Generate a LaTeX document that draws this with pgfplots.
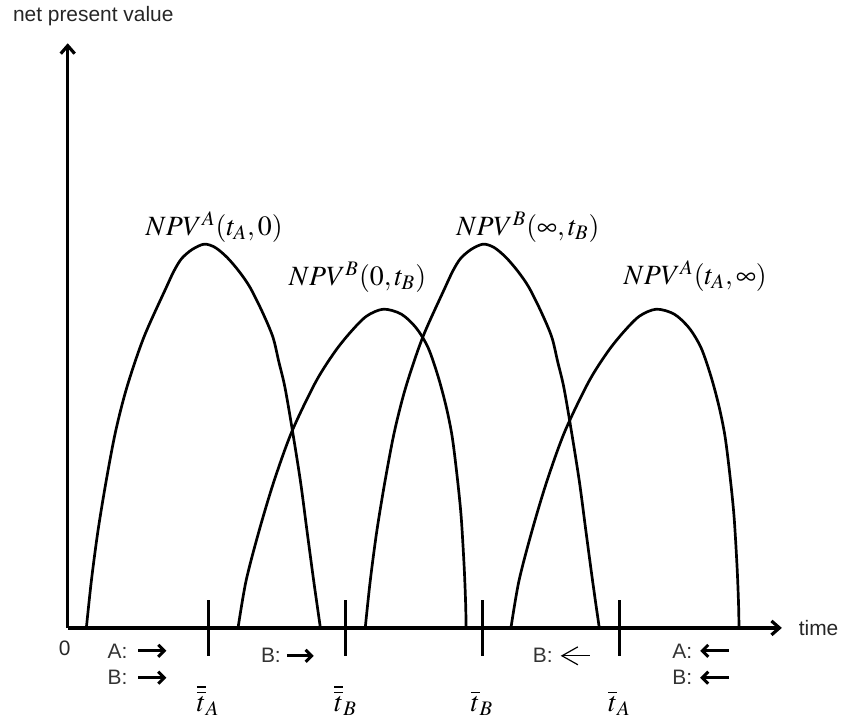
\documentclass[border=0pt]{standalone}
\usepackage{mathptmx}
\usepackage[no-math]{fontspec}
\setmainfont{Liberation Sans}
\usepackage{pgfplots}
\pgfplotsset{compat=1.18}
\usetikzlibrary{arrows.meta}

\newcommand{\lab}{\fontsize{10.5}{12}\selectfont}
\newcommand{\mlab}{\fontsize{14}{16}\selectfont}

\begin{document}
\begin{tikzpicture}
\begin{axis}[
  x=0.5pt, y=0.5pt,
  xmin=0, xmax=717, ymin=0, ymax=587,
  enlargelimits=false,
  axis lines=left,
  axis line style={line width=1.6pt, -{Straight Barb[length=4pt,width=7pt]}},
  ytick=\empty,
  xtick={141,279,416,554},
  xticklabels={$\overline{\overline{t}}_A$,$\overline{\overline{t}}_B$,$\overline{t}_B$,$\overline{t}_A$},
  xticklabel style={font=\mlab, anchor=base, yshift=-28pt},
  tick align=center,
  major tick length=28pt,
  tick style={line width=1.5pt, black},
  clip=false,
]
% NPV curves
\addplot[smooth, line width=1.35pt] coordinates {(18.7,0)(23.7,47)(30.3,97)(38.5,147)(48,197)(59.5,242)(76.5,292)(99,342)(107,359)(114.5,371)(125,380)(137,385.3)(148,382)(160,372)(172,358)(183,342)(195.5,317)(206,292)(212,267)(218,242)(225.3,200)(233.7,147)(240.3,97)(247,47)(253.7,0)};
\addplot[smooth, line width=1.35pt] coordinates {(171,0)(179,47)(192,97)(207,147)(225,197)(249,247)(268,277)(284,297)(300,313)(317,320)(335,315)(350,301)(362,281)(372,252)(380,222)(386,192)(391,152)(395,112)(398,62)(399.5,25)(400,0)};
\addplot[smooth, line width=1.35pt] coordinates {(298.7,0)(303.7,47)(310.3,97)(318.5,147)(328,197)(339.5,242)(356.5,292)(379,342)(387,359)(394.5,371)(405,380)(417,385.3)(428,382)(440,372)(452,358)(463,342)(475.5,317)(486,292)(492,267)(498,242)(505.3,200)(513.7,147)(520.3,97)(527,47)(533.7,0)};
\addplot[smooth, line width=1.35pt] coordinates {(445,0)(453,47)(466,97)(481,147)(499,197)(523,247)(542,277)(558,297)(574,313)(591,320)(609,315)(624,301)(636,281)(646,252)(654,222)(660,192)(665,152)(669,112)(672,62)(673.5,25)(674,0)};

% curve labels
\node[anchor=base, font=\mlab] at (axis cs:147,394) {$NPV^{A}(t_A,0)$};
\node[anchor=base, font=\mlab] at (axis cs:291,344) {$NPV^{B}(0,t_B)$};
\node[anchor=base, font=\mlab] at (axis cs:462,394) {$NPV^{B}(\infty,t_B)$};
\node[anchor=base, font=\mlab] at (axis cs:630,345) {$NPV^{A}(t_A,\infty)$};

% axis texts
\node[anchor=west, font=\lab, text=black!85] at (axis cs:-62,614) {net present value};
\node[anchor=west, font=\lab, text=black!85] at (axis cs:727,0) {time};
\node[font=\lab, text=black!85] at (axis cs:-3,-20) {0};

% direction annotations
\node[anchor=west, font=\lab, text=black!80] at (axis cs:33,-23) {A:};
\node[anchor=west, font=\lab, text=black!80] at (axis cs:33,-50) {B:};
\draw[line width=1.5pt, -{Straight Barb[length=3pt,width=6pt]}] (axis cs:71,-23) -- (axis cs:99,-23);
\draw[line width=1.5pt, -{Straight Barb[length=3pt,width=6pt]}] (axis cs:71,-50) -- (axis cs:99,-50);

\node[anchor=west, font=\lab, text=black!80] at (axis cs:187,-28) {B:};
\draw[line width=1.5pt, -{Straight Barb[length=3pt,width=6pt]}] (axis cs:220,-28) -- (axis cs:247,-28);

\node[anchor=west, font=\lab, text=black!80] at (axis cs:460,-28) {B:};
\draw[line width=0.6pt, {Straight Barb[length=8pt,width=9pt]}-] (axis cs:495,-28) -- (axis cs:524,-28);

\node[anchor=west, font=\lab, text=black!80] at (axis cs:600,-23) {A:};
\node[anchor=west, font=\lab, text=black!80] at (axis cs:600,-50) {B:};
\draw[line width=1.5pt, {Straight Barb[length=3pt,width=6pt]}-] (axis cs:635,-23) -- (axis cs:664,-23);
\draw[line width=1.5pt, {Straight Barb[length=3pt,width=6pt]}-] (axis cs:635,-50) -- (axis cs:664,-50);

% page frame
\path (axis cs:-68,-81) rectangle (axis cs:777,627);
\end{axis}
\end{tikzpicture}
\end{document}
